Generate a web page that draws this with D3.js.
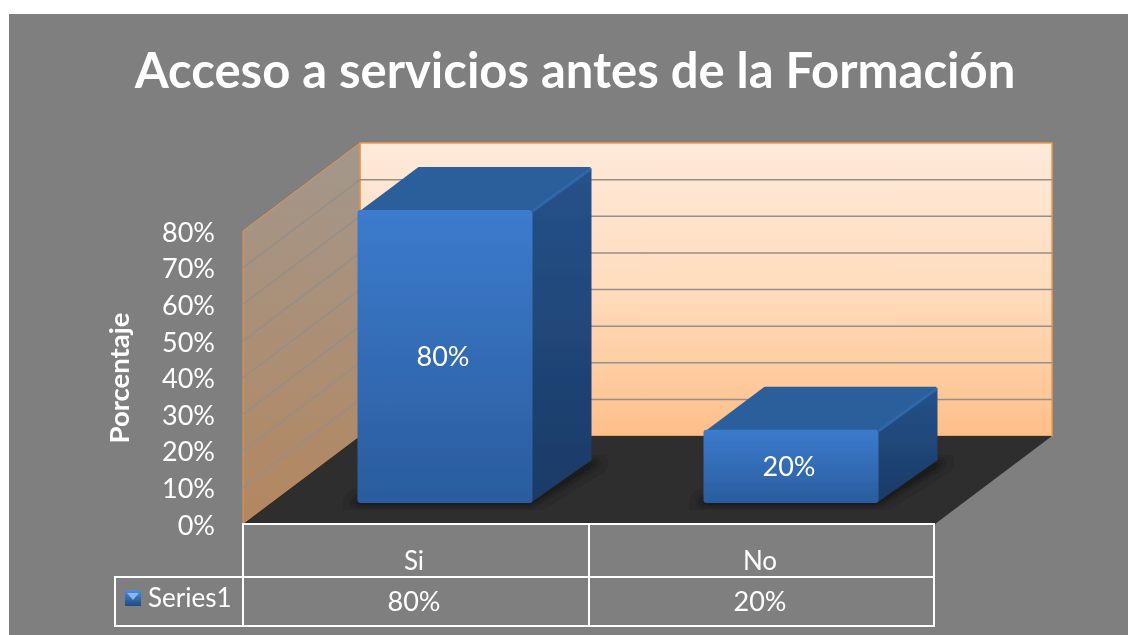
<!DOCTYPE html>
<html><head><meta charset="utf-8">
<script src="https://cdn.jsdelivr.net/npm/d3@7"></script>
<style>html,body{margin:0;padding:0;background:#fff}svg{display:block}text{font-family:Lato,"Open Sans",sans-serif;fill:#fff}</style>
</head><body><svg id="c" width="1128" height="635"></svg>
<script>
const titleText = "Acceso a servicios antes de la Formación";
const axisTitle = "Porcentaje";
const categories = ["Si", "No"];
const seriesName = "Series1";
const seriesValues = [0.8, 0.2];
const yTicks = [0, 0.1, 0.2, 0.3, 0.4, 0.5, 0.6, 0.7, 0.8];

const svg = d3.select("#c");
const fmt = d3.format(".0%");
const plot = {x0: 243, x1: 935, y0: 524, dx: 117, dy: -88};
const y = d3.scaleLinear().domain([0, 0.8]).range([plot.y0, 231]);
const x = d3.scaleBand().domain(categories).range([plot.x0, plot.x1]);
const h = v => plot.y0 - y(v);
const poly = pts => pts.map(p => p.join(",")).join(" ");

const defs = svg.append("defs");
function grad(id, stops, x2 = 0, y2 = 1) {
  const g = defs.append("linearGradient").attr("id", id).attr("x1", 0).attr("y1", 0).attr("x2", x2).attr("y2", y2);
  stops.forEach(s => g.append("stop").attr("offset", s[0]).attr("stop-color", s[1]));
}
grad("wall", [[0, "#fee9da"], [0.5, "#ffdcbd"], [1, "#febf8a"]]);
grad("side", [[0, "#a3978c"], [1, "#b3875f"]]);
grad("front", [[0, "#3c7bcd"], [1, "#2a5c9e"]]);
grad("right", [[0, "#26528a"], [1, "#1a3a66"]]);
grad("swatch", [[0, "#4a90e0"], [1, "#1f4a80"]]);
defs.append("filter").attr("id", "soft").append("feGaussianBlur").attr("stdDeviation", 4);
defs.append("filter").attr("id", "b").append("feGaussianBlur").attr("stdDeviation", 0.7);

svg.append("rect").attr("x", 9).attr("y", 14).attr("width", 1119).attr("height", 621).attr("fill", "#7f7f7f");
const root = svg.append("g").attr("filter", "url(#b)");

root.append("text").attr("x", 575).attr("y", 88).attr("text-anchor", "middle")
  .attr("font-size", 49).attr("font-weight", 700).text(titleText);

// walls and floor
const topY = y(0.8), backX = plot.x0 + plot.dx, backR = plot.x1 + plot.dx, backBase = plot.y0 + plot.dy;
root.append("rect").attr("x", backX).attr("y", topY + plot.dy).attr("width", backR - backX).attr("height", h(0.8))
  .attr("fill", "url(#wall)").attr("stroke", "#f09a4c").attr("stroke-width", 1.5);
root.append("polygon").attr("points", poly([[plot.x0, plot.y0], [plot.x0, topY], [backX, topY + plot.dy], [backX, backBase]]))
  .attr("fill", "url(#side)").attr("stroke", "#e8944a").attr("stroke-width", 1);
root.append("polygon").attr("points", poly([[plot.x0, plot.y0], [plot.x1, plot.y0], [backR, backBase], [backX, backBase]]))
  .attr("fill", "#2d2d2d");

// gridlines
root.append("g").selectAll("path").data(yTicks.slice(1, -1)).join("path")
  .attr("d", v => `M${plot.x0},${y(v)}L${backX},${y(v) + plot.dy}L${backR},${y(v) + plot.dy}`)
  .attr("fill", "none").attr("stroke", "#938f8b").attr("stroke-width", 1.5);

// bars
const barW = 175, dOff = {x: 29, y: -21}, dBar = {x: 59, y: -43};
const bars = root.append("g").selectAll("g").data(categories.map((c, i) => ({c, v: seriesValues[i]}))).join("g")
  .attr("transform", d => `translate(${x(d.c) + x.bandwidth() / 2 - barW / 2 + dOff.x},${plot.y0 + dOff.y})`);
bars.append("polygon").attr("filter", "url(#soft)").attr("fill", "#000").attr("opacity", 0.6)
  .attr("points", poly([[-8, 2], [barW, 2], [barW + dBar.x + 10, dBar.y + 2], [barW + dBar.x, dBar.y], [barW, -6], [0, -6]]));
bars.append("polygon").attr("fill", "#2b5e9b")
  .attr("points", d => poly([[1, -h(d.v) + 2], [dBar.x + 2, -h(d.v) + dBar.y], [barW + dBar.x - 1, -h(d.v) + dBar.y], [barW + dBar.x - 1, -h(d.v) + dBar.y + 3], [barW - 1, -h(d.v) + 3]]));
bars.append("polygon").attr("fill", "url(#right)")
  .attr("points", d => poly([[barW - 2, -h(d.v) + 1], [barW + dBar.x, -h(d.v) + dBar.y + 1], [barW + dBar.x, dBar.y], [barW - 2, 0]]));
bars.append("line").attr("stroke", "#2f68a8").attr("stroke-width", 3)
  .attr("x1", barW).attr("y1", d => -h(d.v) + 1).attr("x2", barW + dBar.x - 1).attr("y2", d => -h(d.v) + dBar.y + 2);
bars.append("rect").attr("x", 0).attr("y", d => -h(d.v)).attr("width", barW).attr("height", d => h(d.v))
  .attr("rx", 3).attr("fill", "url(#front)");
bars.append("text").attr("x", barW / 2 - 2).attr("y", d => -h(d.v) / 2 + 0.5).attr("dy", "0.35em").attr("text-anchor", "middle")
  .attr("font-size", 27).text(d => fmt(d.v));

// value axis
const axis = root.append("g").attr("transform", "translate(215,1.5)")
  .call(d3.axisLeft(y).tickValues(yTicks).tickFormat(fmt).tickSize(0).tickPadding(0));
axis.select(".domain").remove();
axis.selectAll("text").attr("font-size", 27).attr("font-family", 'Lato,"Open Sans",sans-serif').attr("fill", "#fff");
root.append("text").attr("transform", "translate(129,378) rotate(-90)").attr("text-anchor", "middle")
  .attr("font-size", 27.5).attr("font-weight", 700).text(axisTitle);

// data table
const tableY = [524, 577, 626], legendX = 115;
const tbl = root.append("g").attr("fill", "none").attr("stroke", "#fff").attr("stroke-width", 2);
tbl.append("rect").attr("x", plot.x0).attr("y", tableY[0]).attr("width", x.range()[1] - plot.x0 - 1).attr("height", tableY[2] - tableY[0]);
tbl.append("rect").attr("x", legendX).attr("y", tableY[1]).attr("width", plot.x0 - legendX).attr("height", tableY[2] - tableY[1]);
tbl.append("line").attr("x1", plot.x0).attr("x2", plot.x1 - 1).attr("y1", tableY[1]).attr("y2", tableY[1]);
tbl.append("line").attr("x1", x("No")).attr("x2", x("No")).attr("y1", tableY[0]).attr("y2", tableY[2]);
root.append("g").selectAll("text").data(categories).join("text")
  .attr("x", c => x(c) + x.bandwidth() / 2 - 2).attr("y", 570).attr("text-anchor", "middle").attr("font-size", 26).text(c => c);
root.append("g").selectAll("text").data(seriesValues).join("text")
  .attr("x", (v, i) => x(categories[i]) + x.bandwidth() / 2 - 2).attr("y", 611).attr("text-anchor", "middle").attr("font-size", 27).text(fmt);
root.append("rect").attr("x", 125).attr("y", 590).attr("width", 16).attr("height", 16).attr("fill", "url(#swatch)");
root.append("polygon").attr("points", "127,593 139,593 133,600").attr("fill", "#9cc8f5").attr("opacity", 0.8);
root.append("text").attr("x", 148).attr("y", 607).attr("font-size", 26).text(seriesName);
</script></body></html>
